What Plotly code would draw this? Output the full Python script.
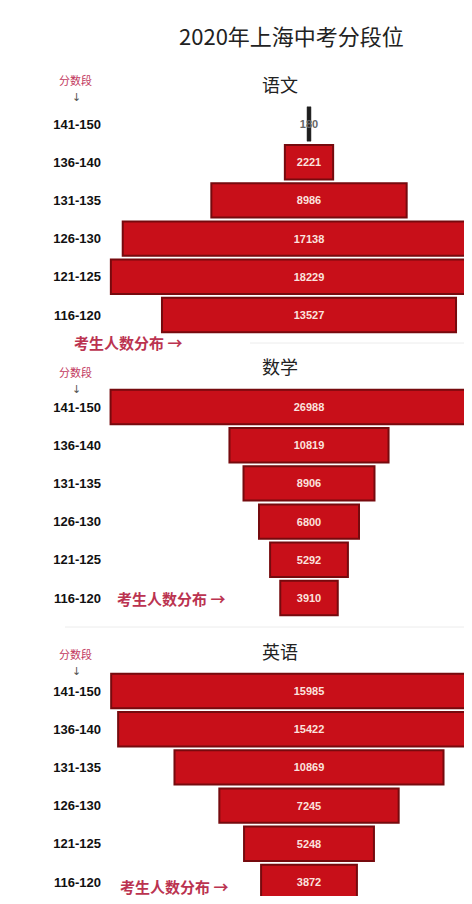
import plotly.graph_objects as go

# ---------- data ----------
bands = ["141-150", "136-140", "131-135", "126-130", "121-125", "116-120"]
chinese = [180, 2221, 8986, 17138, 18229, 13527]
maths = [26988, 10819, 8906, 6800, 5292, 3910]
english = [15985, 15422, 10869, 7245, 5248, 3872]

title = "2020年上海中考分段位"
subjects = ["语文", "数学", "英语"]
band_label = "分数段"
count_label = "考生人数分布 →"

# ---------- look ----------
# the page puts an 8px body margin round the figure; keep it inside the window
OFF = 8
W, H = 472 - OFF, 904 - 2 * OFF


def px(x):
    return (x - OFF) / W


def py(y):
    return 1 - (y - OFF) / H


PLOT_LEFT = 106          # px (picture) where the plotting area starts
CENTER = 309             # px (picture) where the funnels are centred
units_per_px = [46, 68, 40.4]   # each panel has its own scale
first_row = [124, 407, 691]     # px (picture) of the top row in each panel
ROW_STEP = 38.2
BOTTOM_EDGE = OFF + H            # lowest picture px the figure reaches

CJK = "Noto Sans CJK SC"
BAR = "#c80f19"
EDGE = "#760a0e"
VALUE_TXT = "#fbe2de"
PINK = "#c23a5e"

series = [chinese, maths, english]

fig = go.Figure()
for i, vals in enumerate(series):
    n = "" if i == 0 else str(i + 1)
    k = units_per_px[i]
    # very thin bars (like the 180 one) read as a dark stroke
    thin = [v / k < 8 for v in vals]
    colors = ["#1e1e1e" if t else BAR for t in thin]
    edges = ["#1e1e1e" if t else EDGE for t in thin]
    widths = [0.5 if t else 2 for t in thin]
    txtcol = ["#666666" if t else VALUE_TXT for t in thin]
    fig.add_trace(go.Funnel(
        y=bands, x=vals,
        xaxis="x" + n, yaxis="y" + n,
        texttemplate="%{x:d}",
        textposition="inside",
        insidetextanchor="middle",
        constraintext="none",
        textfont=dict(family="Liberation Sans", size=11, color=txtcol, weight="bold"),
        marker=dict(color=colors, line=dict(color=edges, width=widths)),
        connector=dict(visible=False),
        hoverinfo="y+x",
    ))

    top = first_row[i] - ROW_STEP / 2
    bottom = first_row[i] + ROW_STEP * (len(bands) - 0.5)
    cut = max(0, bottom - BOTTOM_EDGE)
    bottom -= cut
    fig.update_layout({
        "xaxis" + n: dict(
            domain=[px(PLOT_LEFT), 1], anchor="y" + n, visible=False,
            range=[-(CENTER - PLOT_LEFT) * k, (472 - CENTER) * k], fixedrange=True,
        ),
        "yaxis" + n: dict(
            domain=[py(bottom), py(top)], anchor="x" + n,
            type="category", categoryorder="array", categoryarray=bands,
            range=[len(bands) - 0.5 - cut / ROW_STEP, -0.5],
            showgrid=False, zeroline=False, showline=False, ticks="",
            ticklabelstandoff=4,
            tickfont=dict(family="Liberation Sans", size=13, color="#111111", weight="bold"),
            fixedrange=True,
        ),
    })

# ---------- texts ----------
ann = [dict(text=title, x=px(291), y=py(35),
            font=dict(family=CJK, size=22, color="#222222"))]
sub_y = [84, 366, 651]
band_y = [80, 372, 654]
count_xy = [(72, 342), (115, 598), (118, 886)]
for i, s in enumerate(subjects):
    ann.append(dict(text=s, x=px(280), y=py(sub_y[i]),
                    font=dict(family=CJK, size=18, color="#222222")))
    ann.append(dict(text=band_label, x=px(75), y=py(band_y[i]),
                    font=dict(family=CJK, size=11, color=PINK)))
    ann.append(dict(text="↓", x=px(76), y=py(band_y[i] + 17),
                    font=dict(family="DejaVu Sans", size=11, color="#555555")))
    cx, cy = count_xy[i]
    ann.append(dict(text=count_label, x=px(cx), y=py(cy), xanchor="left",
                    font=dict(family=CJK, size=15, color="#bb3350", weight="bold")))
for a in ann:
    a.update(xref="paper", yref="paper", showarrow=False)
    a.setdefault("xanchor", "center")
    a.setdefault("yanchor", "middle")

fig.update_layout(
    width=W, height=H,
    margin=dict(l=0, r=0, t=0, b=0),
    paper_bgcolor="white", plot_bgcolor="white",
    funnelgap=0.1,
    showlegend=False,
    annotations=ann,
    shapes=[
        dict(type="line", xref="paper", yref="paper", x0=px(250), x1=1,
             y0=py(343), y1=py(343), line=dict(color="#ececec", width=1)),
        dict(type="line", xref="paper", yref="paper", x0=px(65), x1=1,
             y0=py(627), y1=py(627), line=dict(color="#ececec", width=1)),
    ],
)

fig.write_html("out.html", default_width=f"{W}px", default_height=f"{H}px")
